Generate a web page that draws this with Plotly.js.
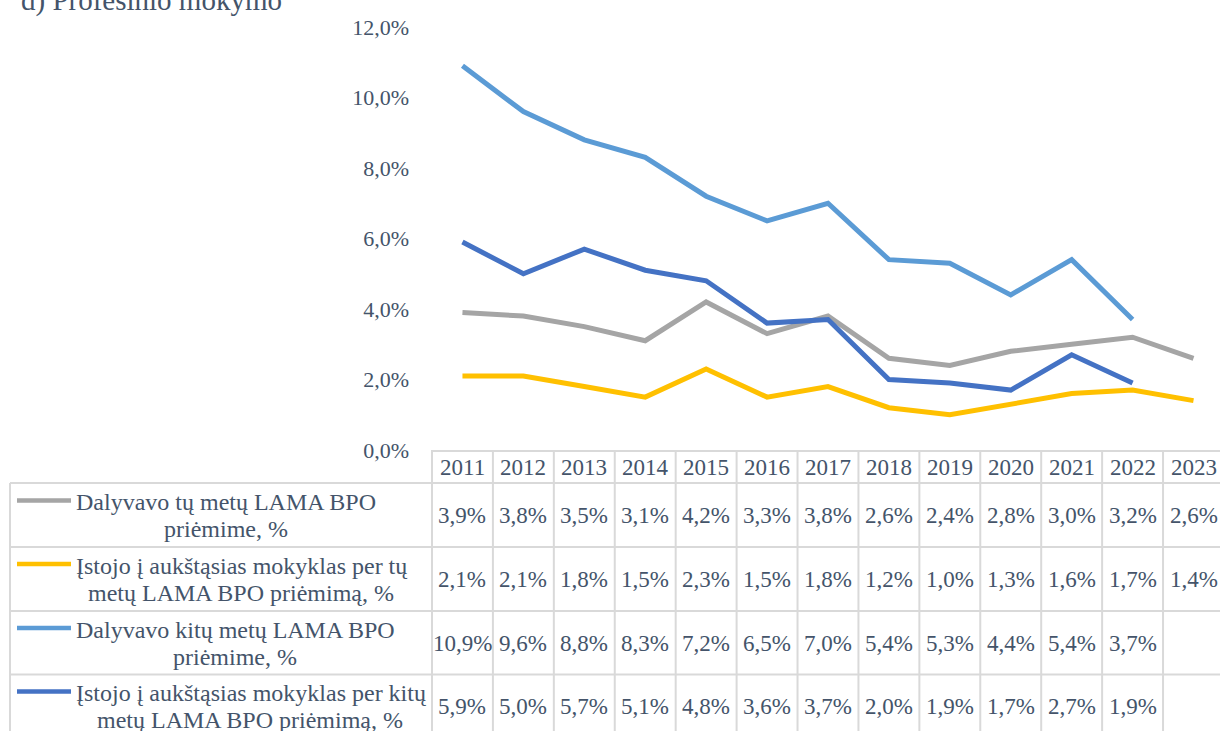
<!DOCTYPE html>
<html>
<head>
<meta charset="utf-8">
<script src="https://cdn.plot.ly/plotly-3.0.1.min.js"></script>
<style>
html, body { margin: 0; padding: 0; background: #ffffff; }
#chart { width: 1220px; height: 731px; }
</style>
</head>
<body>
<div id="chart"></div>
<script>
// ---- data ----
const years = ['2011','2012','2013','2014','2015','2016','2017','2018','2019','2020','2021','2022','2023'];
const seriesNames = [
  ['Dalyvavo tų metų LAMA BPO', 'priėmime, %'],
  ['Įstojo į aukštąsias mokyklas per tų', 'metų LAMA BPO priėmimą, %'],
  ['Dalyvavo kitų metų LAMA BPO', 'priėmime, %'],
  ['Įstojo į aukštąsias mokyklas per kitų', 'metų LAMA BPO priėmimą, %']
];
const dalyvavoTu   = [3.9, 3.8, 3.5, 3.1, 4.2, 3.3, 3.8, 2.6, 2.4, 2.8, 3.0, 3.2, 2.6];
const istojoTu     = [2.1, 2.1, 1.8, 1.5, 2.3, 1.5, 1.8, 1.2, 1.0, 1.3, 1.6, 1.7, 1.4];
const dalyvavoKitu = [10.9, 9.6, 8.8, 8.3, 7.2, 6.5, 7.0, 5.4, 5.3, 4.4, 5.4, 3.7, null];
const istojoKitu   = [5.9, 5.0, 5.7, 5.1, 4.8, 3.6, 3.7, 2.0, 1.9, 1.7, 2.7, 1.9, null];
const seriesValues = [dalyvavoTu, istojoTu, dalyvavoKitu, istojoKitu];
const titleText = 'd) Profesinio mokymo';

// ---- styles ----
const colors = ['#A5A5A5', '#FFC000', '#5B9BD5', '#4472C4'];
const textColor = '#44546A';
const gridColor = '#D9D9D9';
const fontFamily = '"Liberation Serif", "Times New Roman", serif';

// plot area in pixels
const L = 432, T = 27, W = 788, H = 423;
const px = x => (x - L) / W;
const py = y => (T + H - y) / H;

const headerY = 467;
const rowBorders = [483, 547, 611, 674.5, 738];
const rowCenters = [515.5, 579, 643, 706.5];

const fmt = v => v.toFixed(1).replace('.', ',') + '%';

const canvas = document.createElement('canvas');
const ctx = canvas.getContext('2d');
ctx.font = '24px "Liberation Serif"';

const traces = seriesValues.map((vals, i) => ({
  x: years,
  y: vals,
  type: 'scatter',
  mode: 'lines',
  line: { color: colors[i], width: 5 },
  name: seriesNames[i].join(' '),
  connectgaps: false,
  hoverinfo: 'skip'
}));

const shapes = [];
const annotations = [];

// table horizontal lines
rowBorders.forEach(y => {
  shapes.push({ type: 'line', xref: 'paper', yref: 'paper', x0: px(10), x1: 1, y0: py(y), y1: py(y),
    line: { color: gridColor, width: 2 } });
});
// left border of table
shapes.push({ type: 'line', xref: 'paper', yref: 'paper', x0: px(10), x1: px(10), y0: py(483), y1: py(740),
  line: { color: gridColor, width: 2 } });
// vertical column lines
shapes.push({ type: 'line', xref: 'paper', yref: 'paper', x0: 0, x1: 0, y0: py(450), y1: py(740),
  line: { color: gridColor, width: 2 } });
for (let k = 1; k <= years.length; k++) {
  shapes.push({ type: 'line', xref: 'x', yref: 'paper', x0: k - 0.5, x1: k - 0.5, y0: py(450), y1: py(740),
    line: { color: gridColor, width: 2 } });
}

// header years
years.forEach((yr, i) => {
  annotations.push({ xref: 'x', yref: 'paper', x: i, y: py(headerY), text: yr, showarrow: false,
    xanchor: 'center', yanchor: 'middle', font: { family: fontFamily, size: 23, color: textColor } });
});

// values + legend
seriesValues.forEach((vals, r) => {
  vals.forEach((v, i) => {
    if (v === null) return;
    annotations.push({ xref: 'x', yref: 'paper', x: i, y: py(rowCenters[r]), text: fmt(v), showarrow: false,
      xanchor: 'center', yanchor: 'middle', font: { family: fontFamily, size: 23, color: textColor } });
  });
  const l1 = seriesNames[r][0], l2 = seriesNames[r][1];
  const w1 = ctx.measureText(l1).width;
  const y1 = rowCenters[r] - 13.5, y2 = rowCenters[r] + 13.5;
  shapes.push({ type: 'line', xref: 'paper', yref: 'paper', x0: px(17), x1: px(71), y0: py(y1 - 1.5), y1: py(y1 - 1.5),
    line: { color: colors[r], width: 4.5 } });
  annotations.push({ xref: 'paper', yref: 'paper', x: px(74), y: py(y1), text: l1, showarrow: false,
    xanchor: 'left', yanchor: 'middle', font: { family: fontFamily, size: 24, color: textColor } });
  annotations.push({ xref: 'paper', yref: 'paper', x: px(75 + w1 / 2), y: py(y2), text: l2, showarrow: false,
    xanchor: 'center', yanchor: 'middle', font: { family: fontFamily, size: 24, color: textColor } });
});

// title
annotations.push({ xref: 'paper', yref: 'paper', x: px(19), y: py(0), text: titleText, showarrow: false,
  xanchor: 'left', yanchor: 'middle', font: { family: fontFamily, size: 29, color: textColor } });

const layout = {
  width: 1220,
  height: 731,
  margin: { l: L, r: 0, t: T, b: 731 - T - H, pad: 0 },
  paper_bgcolor: '#ffffff',
  plot_bgcolor: '#ffffff',
  showlegend: false,
  separators: ', ',
  font: { family: fontFamily, color: textColor },
  xaxis: {
    type: 'category',
    range: [-0.5, 12.435],
    showticklabels: false,
    ticks: '',
    showgrid: false,
    zeroline: false,
    showline: true,
    linecolor: gridColor,
    linewidth: 2,
    fixedrange: true
  },
  yaxis: {
    range: [0, 12],
    dtick: 2,
    tick0: 0,
    tickformat: '.1f',
    ticksuffix: '%',
    ticks: '',
    ticklabelstandoff: 22,
    showgrid: false,
    zeroline: false,
    showline: false,
    tickfont: { family: fontFamily, size: 22, color: textColor },
    fixedrange: true
  },
  shapes: shapes,
  annotations: annotations
};

Plotly.newPlot('chart', traces, layout, { displayModeBar: false, staticPlot: true });
</script>
</body>
</html>
